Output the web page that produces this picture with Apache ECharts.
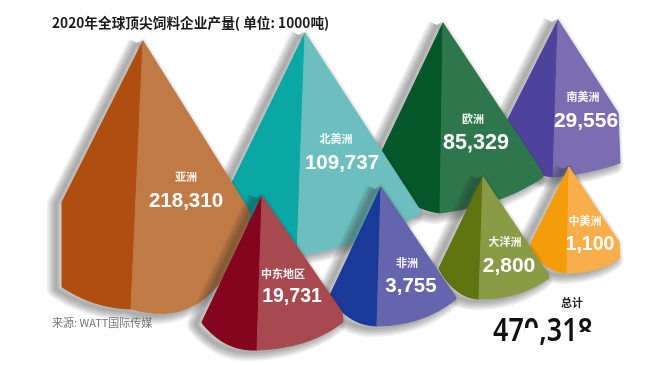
<!DOCTYPE html>
<html><head><meta charset="utf-8">
<style>html,body{margin:0;padding:0;background:#fff}#c{width:657px;height:365px}</style>
<script src="https://cdn.jsdelivr.net/npm/echarts@6/dist/echarts.min.js"></script>
</head><body><div id="c"></div>
<script>
// Values, back-to-front drawing order
const regions = ['南美洲','欧洲','北美洲','亚洲','中美洲','大洋洲','非洲','中东地区'];
const outputs = [29556,85329,109737,218310,1100,2800,3755,19731];
const totalOutput = 470318;
const titleText = '2020年全球顶尖饲料企业产量( 单位: 1000吨)';
const sourceText = '来源: WATT国际传媒';
const totalLabel = '总计';

// Illustration geometry in axis units (not data): the cones are not to scale in the source
const coneOutlines = [
 {apex:[558,20], lt:[505,125],lb:[505,135],lm:[525,165],ridge:[553,177],rm:[587,172],br:[620,163],rt:[618,113]},
 {apex:[443,23], lt:[372,172],lb:[372,172],lm:[407,201],ridge:[440,213],rm:[497,200],br:[543,177],rt:[542,172]},
 {apex:[305,33], lt:[222,203],lb:[222,225],lm:[258,246],ridge:[297,256],rm:[362,240],br:[420,214],rt:[420,210]},
 {apex:[143,41], lt:[62,202], lb:[62,287], lm:[95,303], ridge:[131,309],rm:[205,298],br:[250,214],rt:[250,212]},
 {apex:[569,167],lt:[530,245],lb:[530,247],lm:[546,266],ridge:[567,273],rm:[597,269],br:[620,258],rt:[619,242]},
 {apex:[483,177],lt:[439,268],lb:[439,269],lm:[457,291],ridge:[479,299],rm:[517,294],br:[549,278],rt:[548,274]},
 {apex:[381,187],lt:[330,295],lb:[330,296],lm:[350,318],ridge:[377,326],rm:[420,319],br:[456,299],rt:[455,296]},
 {apex:[262,196],lt:[202,322],lb:[202,323],lm:[227,344],ridge:[257,350],rm:[305,342],br:[343,322],rt:[342,312]}
];
const coneColors = [
 ['#4f429c','#7a6db0'],['#06562b','#2e774d'],['#0aa7a5','#6dbfbf'],['#b04e12','#c07a45'],
 ['#f59c0b','#f8ae4a'],['#5f730f','#8b9a45'],['#1a3a9a','#6565ad'],['#83041c','#a8484f']
];
const nameSpots  = [[583,98],[473,120],[336,140],[186,178],[585,222],[505,243],[407,264],[283,275]];
const valueSpots = [[586,121],[476,143],[342,163],[186,201],[590,245],[509,266],[411,286],[292,297]];
const valueFonts = [21,21.5,20.5,20.5,19.5,21,20.5,19.5];
const shadowWidths = [18,15,12,9,6,3];

const FONT = '"Liberation Sans","Noto Sans CJK SC",sans-serif';
const fmt = v => v.toLocaleString('en-US');

function curve(a, mid, b, px) {
  const c = [2*mid[0]-(a[0]+b[0])/2, 2*mid[1]-(a[1]+b[1])/2];
  const out = [];
  for (let i = 1; i <= 14; i++) {
    const t = i/14, u = 1-t;
    out.push(px([u*u*a[0]+2*u*t*c[0]+t*t*b[0], u*u*a[1]+2*u*t*c[1]+t*t*b[1]]));
  }
  return out;
}

function renderCone(params, api) {
  const i = api.value(0), s = coneOutlines[i], col = coneColors[i];
  const px = p => api.coord(p);
  const dark = [px(s.apex), px(s.lt), px(s.lb), ...curve(s.lb, s.lm, s.ridge, px)];
  const light = [px(s.apex), px(s.ridge), ...curve(s.ridge, s.rm, s.br, px), px(s.rt)];
  const whole = [px(s.apex), px(s.lt), px(s.lb), ...curve(s.lb, s.lm, s.ridge, px), ...curve(s.ridge, s.rm, s.br, px), px(s.rt)];
  const n = px(nameSpots[i]), v = px(valueSpots[i]);
  // soft shadow built from widening translucent outlines
  const soft = shadowWidths.map(w => ({
    type:'polyline', x:-6, y:2, shape:{points:whole.concat([whole[0]])},
    style:{fill:null, stroke:'rgba(40,40,40,0.075)', lineWidth:w, lineJoin:'round'}
  }));
  return {type:'group', children:[
    ...soft,
    {type:'polygon', shape:{points:dark}, style:{fill:col[0], stroke:col[0], lineWidth:1, lineJoin:'round'}},
    {type:'polygon', shape:{points:light}, style:{fill:col[1], stroke:col[1], lineWidth:1, lineJoin:'round'}},
    {type:'text', x:n[0], y:n[1], style:{text:regions[i], fill:'rgba(255,255,255,0.92)', font:'bold 11px '+FONT, align:'center', verticalAlign:'middle'}},
    {type:'text', x:v[0], y:v[1], style:{text:fmt(api.value(1)), fill:'#fff', font:'bold '+valueFonts[i]+'px '+FONT, align:'center', verticalAlign:'middle'}}
  ]};
}

const chart = echarts.init(document.getElementById('c'), null, {renderer:'canvas'});
chart.setOption({
  animation:false,
  backgroundColor:'#fff',
  grid:{left:0,right:0,top:0,bottom:0},
  xAxis:{type:'value',min:0,max:657,show:false},
  yAxis:{type:'value',min:0,max:365,inverse:true,show:false},
  series:[{
    type:'custom', clip:false, coordinateSystem:'cartesian2d',
    data:outputs.map((v,i)=>[i,v]),
    encode:{x:0,y:1},
    renderItem:renderCone
  }],
  title:[
    {text:titleText,left:52,top:16,padding:0,textStyle:{fontFamily:'"Noto Sans CJK SC",sans-serif',fontWeight:'bold',fontSize:13.7,color:'#1a1a1a'}},
    {text:sourceText,left:52,top:317,padding:0,textStyle:{fontFamily:'"Noto Sans CJK SC",sans-serif',fontWeight:'normal',fontSize:11,color:'#777'}},
    {text:totalLabel,left:572,top:297,padding:0,textAlign:'center',textStyle:{fontFamily:'"Noto Sans CJK SC",sans-serif',fontWeight:'bold',fontSize:11,color:'#222'}}
  ],
  graphic:[
    {type:'text', x:543, y:332, scaleX:0.84, z:10, style:{text:fmt(totalOutput), font:'600 32px "Noto Sans","Liberation Sans",sans-serif', fill:'#111', align:'center', verticalAlign:'middle'}},
    {type:'rect', z:11, shape:{x:525,y:328,width:14,height:16}, style:{fill:'#fff'}},
    {type:'rect', z:11, shape:{x:577,y:332,width:20,height:12}, style:{fill:'#fff'}}
  ]
});
</script></body></html>
